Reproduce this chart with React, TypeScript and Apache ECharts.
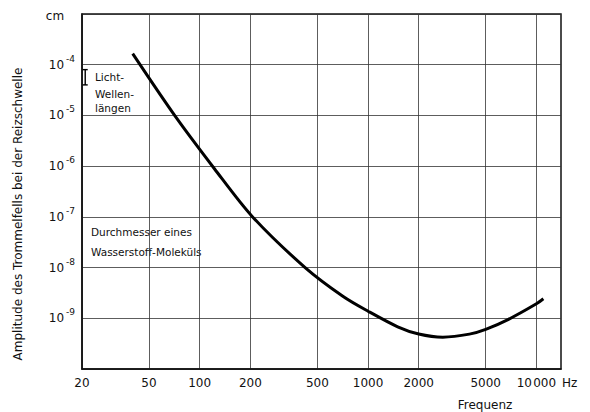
import React, { useEffect, useRef } from 'react';
import * as echarts from 'echarts';

// Hearing threshold: eardrum amplitude (cm) vs. frequency (Hz)
const frequencies = [40, 71, 122, 205, 423, 712, 1000, 1500, 2000, 2780, 4000, 5000, 6830, 10000, 11000];
const amplitudes = [1.65e-4, 1.0e-5, 9.0e-7, 1.02e-7, 1.0e-8, 2.69e-9, 1.38e-9, 6.8e-10, 4.9e-10, 4.25e-10, 4.87e-10, 6.05e-10, 9.55e-10, 1.93e-9, 2.43e-9];

const xTicks = [20, 50, 100, 200, 500, 1000, 2000, 5000, 10000];
const yGrid = [1e-10, 1e-9, 1e-8, 1e-7, 1e-6, 1e-5, 1e-4, 1e-3];
const yLabels = [1e-9, 1e-8, 1e-7, 1e-6, 1e-5, 1e-4];

// light wavelengths range (cm), drawn as an I-bar
const lightWaveFreq = [20.9];
const lightWaveLow = [4e-5];
const lightWaveHigh = [8e-5];

const FONT = '"DejaVu Sans", sans-serif';
const INK = '#111';

export default function App() {
  const ref = useRef<HTMLDivElement>(null);

  useEffect(() => {
    if (!ref.current) return;
    const chart = echarts.init(ref.current, undefined, { renderer: 'svg' });

    const curve = frequencies.map((f, i) => [f, amplitudes[i]]);
    const bars = lightWaveFreq.map((f, i) => [f, lightWaveLow[i], lightWaveHigh[i]]);

    const text = (t: string, x: number, y: number, size: number, align = 'left') => ({
      type: 'text',
      x,
      y,
      style: { text: t, fontFamily: FONT, fontSize: size, fill: INK, align, verticalAlign: 'middle' },
    });

    chart.setOption({
      animation: false,
      backgroundColor: '#fff',
      grid: {
        left: 82,
        top: 14,
        width: 479,
        height: 355,
        show: true,
        borderColor: INK,
        borderWidth: 1.5,
        containLabel: false,
      },
      xAxis: {
        type: 'log',
        logBase: 10,
        min: 20,
        max: 14000,
        axisLine: { show: true, lineStyle: { color: INK, width: 1.5 } },
        axisTick: { show: false, customValues: xTicks },
        axisLabel: {
          customValues: xTicks,
          margin: 8,
          fontFamily: FONT,
          fontSize: 12,
          color: INK,
          formatter: (v: number) => (v === 10000 ? '10\u200a000' : String(v)),
        },
        splitLine: { show: true, lineStyle: { color: '#333', width: 0.8 } },
      },
      yAxis: {
        type: 'log',
        logBase: 10,
        min: 1e-10,
        max: 1e-3,
        axisLine: { show: true, lineStyle: { color: INK, width: 1.5 } },
        axisTick: { show: false, customValues: yGrid },
        axisLabel: {
          customValues: yLabels,
          margin: 7,
          color: INK,
          formatter: (v: number) => `{b|10}{s|${Math.round(Math.log10(v))}}`,
          rich: {
            b: { fontFamily: FONT, fontSize: 12, color: INK },
            s: { fontFamily: FONT, fontSize: 9, color: INK, padding: [0, 0, 12, 2] },
          },
        },
        splitLine: { show: true, lineStyle: { color: '#333', width: 0.8 } },
      },
      series: [
        {
          type: 'line',
          data: curve,
          smooth: 0.3,
          symbol: 'none',
          lineStyle: { color: '#000', width: 3 },
        },
        {
          type: 'custom',
          data: bars,
          encode: { x: 0, y: [1, 2] },
          renderItem: (params: any, api: any) => {
            const lo = api.coord([api.value(0), api.value(1)]);
            const hi = api.coord([api.value(0), api.value(2)]);
            const w = 2.5;
            const style = { stroke: '#000', lineWidth: 1.4 };
            return {
              type: 'group',
              children: [
                { type: 'line', shape: { x1: lo[0], y1: lo[1], x2: hi[0], y2: hi[1] }, style },
                { type: 'line', shape: { x1: lo[0] - w, y1: lo[1], x2: lo[0] + w, y2: lo[1] }, style },
                { type: 'line', shape: { x1: hi[0] - w, y1: hi[1], x2: hi[0] + w, y2: hi[1] }, style },
              ],
            };
          },
        },
      ],
      graphic: [
        {
          type: 'text',
          x: 18,
          y: 214,
          rotation: Math.PI / 2,
          style: {
            text: 'Amplitude des Trommelfells bei der Reizschwelle',
            fontFamily: FONT,
            fontSize: 12,
            fill: INK,
            align: 'center',
            verticalAlign: 'middle',
          },
        },
        text('cm', 55, 16, 12, 'center'),
        text('Hz', 562, 383, 12, 'left'),
        text('Frequenz', 485, 405, 12, 'center'),
        text('Licht-', 95, 77, 10.5),
        text('Wellen-', 95, 93.5, 10.5),
        text('längen', 95, 108, 10.5),
        text('Durchmesser eines', 91, 232, 10.5),
        text('Wasserstoff-Moleküls', 91, 252, 10.5),
      ],
    });

    return () => chart.dispose();
  }, []);

  return (
    <div
      ref={ref}
      style={{ position: 'fixed', left: 0, top: 0, width: 590, height: 412, background: '#fff' }}
    />
  );
}
